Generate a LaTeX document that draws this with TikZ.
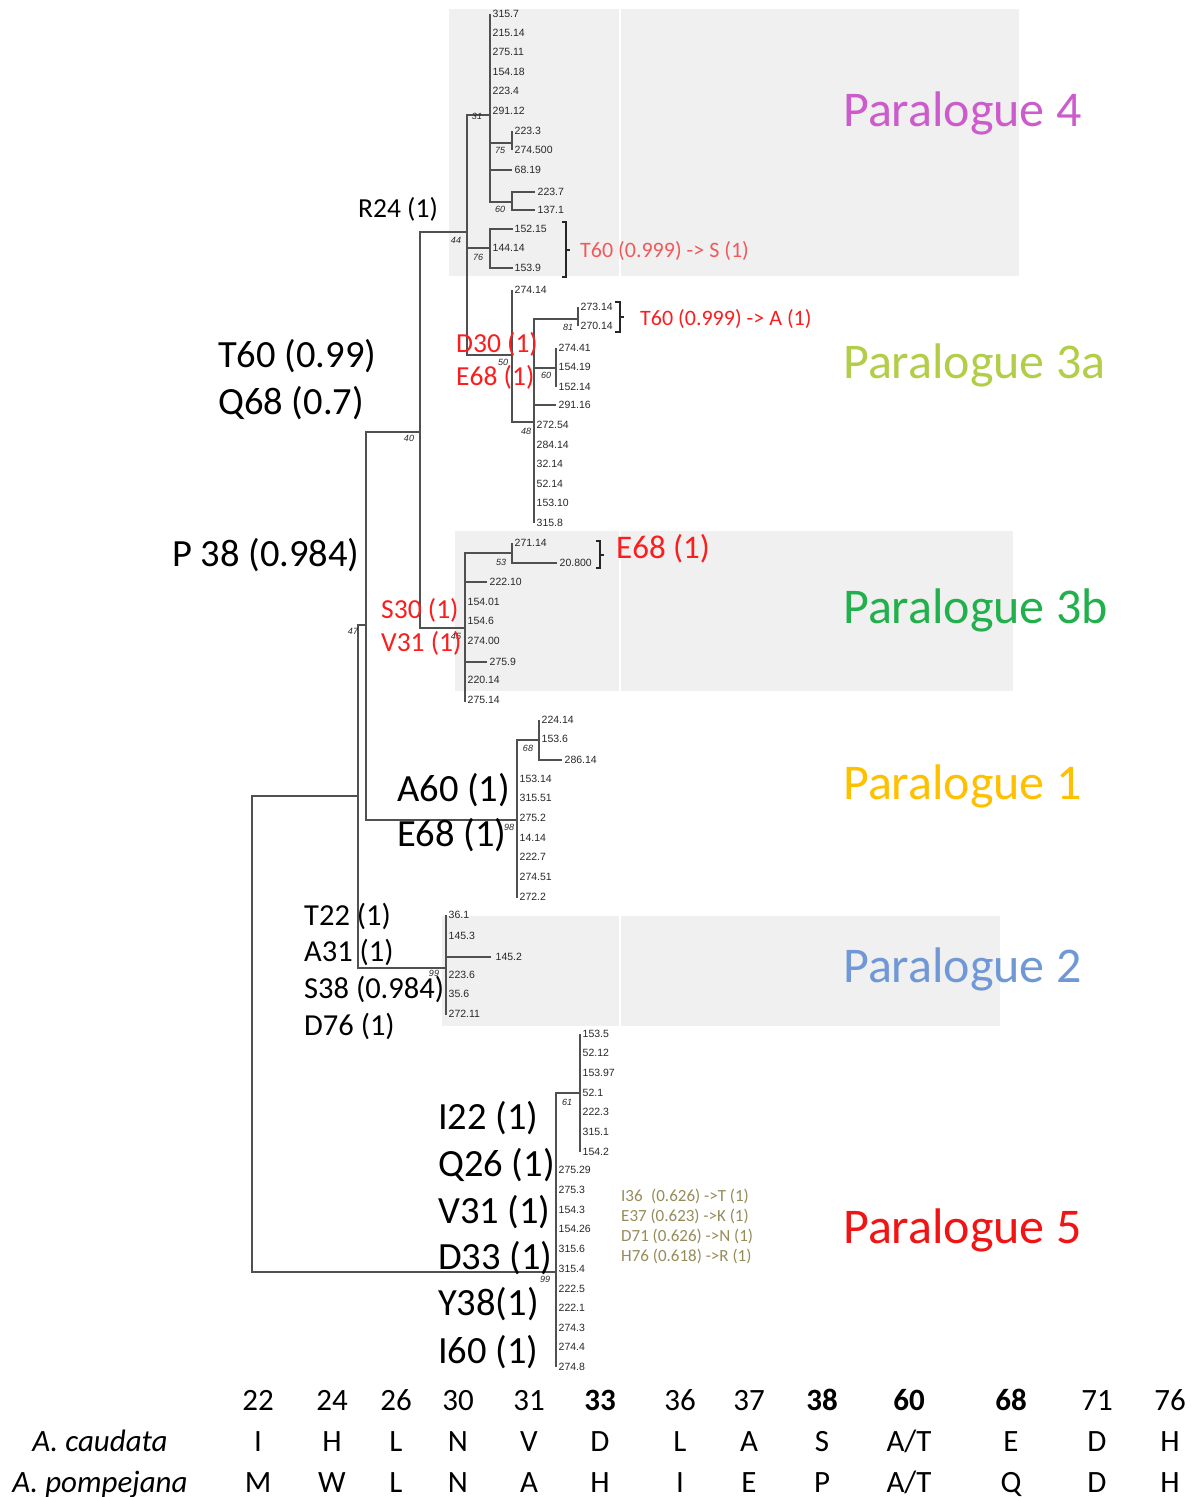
\documentclass[tikz,border=0pt]{standalone}
\usepackage{fontspec}
\setmainfont{Carlito}
\newfontfamily\leaffont{Liberation Sans}
\definecolor{boxgray}{RGB}{240,240,240}
\definecolor{branch}{RGB}{80,80,80}
\definecolor{leafgray}{RGB}{40,40,40}
\definecolor{parafour}{RGB}{204,92,204}
\definecolor{parathreea}{RGB}{178,206,72}
\definecolor{parathreeb}{RGB}{34,176,76}
\definecolor{paraone}{RGB}{255,192,0}
\definecolor{paratwo}{RGB}{112,152,214}
\definecolor{parafive}{RGB}{240,20,20}
\definecolor{mutred}{RGB}{250,30,30}
\definecolor{mutpink}{RGB}{240,90,90}
\definecolor{olivetext}{RGB}{150,140,90}
\begin{document}
\begin{tikzpicture}[x=1pt,y=-1pt,
  br/.style={draw=branch,line width=1.3pt},
  brk/.style={draw=black!85,line width=1.6pt},
  leaf/.style={anchor=west,inner sep=0pt,xshift=2.5pt,font=\leaffont\fontsize{10.5}{11}\selectfont,text=leafgray},
  boot/.style={inner sep=0pt,font=\leaffont\itshape\fontsize{9}{9.5}\selectfont,text=leafgray},
  big/.style={anchor=base west,inner sep=0pt,font=\fontsize{38.5}{40}\selectfont},
  mid/.style={anchor=base west,inner sep=0pt,font=\fontsize{30.5}{32}\selectfont},
  sml/.style={anchor=base west,inner sep=0pt,font=\fontsize{27.5}{29}\selectfont},
  para/.style={anchor=base west,inner sep=0pt,font=\fontsize{50}{52}\selectfont},
  tab/.style={anchor=base,inner sep=0pt,font=\fontsize{31}{33}\selectfont}]
\useasboundingbox (0,0) rectangle (1196,1497);
\fill[white] (0,0) rectangle (1196,1497);

% shaded clade panels
\fill[boxgray] (449,9) rectangle (619,276);
\fill[boxgray] (621,9) rectangle (1019,276);
\fill[boxgray] (455,531) rectangle (619,691);
\fill[boxgray] (621,531) rectangle (1013,691);
\fill[boxgray] (442,916) rectangle (619,1026);
\fill[boxgray] (621,916) rectangle (1000,1026);

% backbone
\draw[br] (358,796) -| (252,1272) -- (556,1272);
\draw[br] (366,625) -| (358,968) -- (446,968);
\draw[br] (420,432) -| (366,820) -- (517,820);
\draw[br] (467,232) -| (420,628) -- (465,628);
\draw[br] (490,115) -| (467,355) -- (512,355);
\draw[br] (467,248) -- (490,248);

% Paralogue 4
\draw[br] (490,14) -- (490,202) -- (512,202);
\draw[br] (490,143) -- (512,143);
\draw[br] (490,170) -- (512,170);
\draw[br] (512,131) -- (512,150);
\draw[br] (535,192) -| (512,210) -- (535,210);
\draw[br] (513,229) -| (490,268) -- (513,268);

% Paralogue 3a
\draw[br] (512,290) -- (512,422) -- (534,422);
\draw[br] (578,319) -| (534,523);
\draw[br] (534,368) -- (556,368);
\draw[br] (534,405) -- (556,405);
\draw[br] (578,307) -- (578,326);
\draw[br] (556,348) -- (556,387);

% Paralogue 3b
\draw[br] (512,553) -| (465,702);
\draw[br] (465,582) -- (487,582);
\draw[br] (465,662) -- (487,662);
\draw[br] (512,543) -- (512,563) -- (557,563);

% Paralogue 1
\draw[br] (539,740) -| (517,898);
\draw[br] (539,720) -- (539,760) -- (562,760);

% Paralogue 2
\draw[br] (446,915) -- (446,1015);
\draw[br] (446,957) -- (491,957);

% Paralogue 5
\draw[br] (580,1093) -| (556,1367);
\draw[br] (580,1034) -- (580,1152);

% leaves
\foreach \y/\lbl [count=\i] in {14/315.7,33/215.14,52/275.11,72/154.18,91/223.4,111/291.12,248/144.14}
  \node[leaf,name=pa\i] at (490,\y) {\lbl};
\foreach \y/\lbl [count=\i] in {131/223.3,150/274.500,170/68.19,229/152.15,268/153.9,290/274.14}
  \node[leaf,name=pb\i] at (512,\y) {\lbl};
\node[leaf,name=pc1] at (535,192) {223.7};
\node[leaf,name=pc2] at (535,210) {137.1};
\node[leaf,name=ta1] at (578,307) {273.14};
\node[leaf,name=ta2] at (578,326) {270.14};
\foreach \y/\lbl [count=\i] in {348/274.41,367/154.19,387/152.14,405/291.16}
  \node[leaf,name=tb\i] at (556,\y) {\lbl};
\foreach \y/\lbl [count=\i] in {425/272.54,445/284.14,464/32.14,484/52.14,503/153.10,523/315.8}
  \node[leaf,name=tc\i] at (534,\y) {\lbl};
\node[leaf,name=sa1] at (512,543) {271.14};
\node[leaf,name=sa2] at (557,563) {20.800};
\node[leaf,name=sa3] at (487,582) {222.10};
\node[leaf,name=sa4] at (487,662) {275.9};
\foreach \y/\lbl [count=\i] in {602/154.01,621/154.6,641/274.00,680/220.14,700/275.14}
  \node[leaf,name=sb\i] at (465,\y) {\lbl};
\node[leaf,name=oa1] at (539,720) {224.14};
\node[leaf,name=oa2] at (539,739) {153.6};
\node[leaf,name=oa3] at (562,760) {286.14};
\foreach \y/\lbl [count=\i] in {779/153.14,798/315.51,818/275.2,838/14.14,857/222.7,877/274.51,897/272.2}
  \node[leaf,name=ob\i] at (517,\y) {\lbl};
\foreach \y/\lbl [count=\i] in {915/36.1,936/145.3,975/223.6,994/35.6,1014/272.11}
  \node[leaf,name=wa\i] at (446,\y) {\lbl};
\node[leaf,name=wb1] at (493,957) {145.2};
\foreach \y/\lbl [count=\i] in {1034/153.5,1053/52.12,1073/153.97,1093/52.1,1112/222.3,1132/315.1,1152/154.2}
  \node[leaf,name=fa\i] at (580,\y) {\lbl};
\foreach \y/\lbl [count=\i] in {1170/275.29,1190/275.3,1210/154.3,1229/154.26,1249/315.6,1269/315.4,1289/222.5,1308/222.1,1328/274.3,1347/274.4,1367/274.8}
  \node[leaf,name=fb\i] at (556,\y) {\lbl};

% bootstrap values
\foreach \x/\y/\v [count=\i] in {477/116/31,500/150/75,500/209/60,456/240/44,478/257/76,503/362/50,568/327/81,546/375/60,526/431/48,409/438/40,501/562/53,456/636/45,353/631/47,528/748/68,509/827/98,434/973/99,567/1102/61,545/1279/99}
  \node[boot,name=bs\i] at (\x,\y) {\v};

% brackets
\draw[brk] (562,222) -- (566,222) -- (566,277) -- (562,277);
\draw[brk] (566,250) -- (570,250);
\draw[brk] (615,302) -- (620,302) -- (620,332) -- (615,332);
\draw[brk] (620,317) -- (624,317);
\draw[brk] (596,541) -- (600,541) -- (600,568) -- (596,568);
\draw[brk] (600,555) -- (604,555);

% substitution labels
\node[anchor=base west,inner sep=0pt,font=\fontsize{22}{23}\selectfont,text=mutpink] (mutS) at (580,257) {T60 (0.999) -> S (1)};
\node[anchor=base west,inner sep=0pt,font=\fontsize{22}{23}\selectfont,text=mutred] (mutA) at (640,325) {T60 (0.999) -> A (1)};
\node[anchor=base west,inner sep=0pt,font=\fontsize{33}{35}\selectfont,text=mutred] (mutE) at (616,558) {E68 (1)};

\node[sml] (r24) at (358,217) {R24 (1)};
\node[big] (t60) at (218,367) {T60 (0.99)};
\node[big] (q68) at (218,414) {Q68 (0.7)};
\node[big] (p38) at (172,566) {P 38 (0.984)};
\node[sml,text=mutred] (d30) at (456,352) {D30 (1)};
\node[sml,text=mutred] (e68a) at (456,385) {E68 (1)};
\node[sml,text=mutred] (s30) at (381,618) {S30 (1)};
\node[sml,text=mutred] (v31a) at (381,651) {V31 (1)};
\node[big] (a60) at (397,801) {A60 (1)};
\node[big] (e68b) at (397,846) {E68 (1)};
\node[mid] (t22) at (304,925) {T22 (1)};
\node[mid] (a31) at (304,961) {A31 (1)};
\node[mid] (s38) at (304,998) {S38 (0.984)};
\node[mid] (d76) at (304,1035) {D76 (1)};
\node[big] (i22) at (438,1129) {I22 (1)};
\node[big] (q26) at (438,1176) {Q26 (1)};
\node[big] (v31b) at (438,1223) {V31 (1)};
\node[big] (d33) at (438,1269) {D33 (1)};
\node[big] (y38) at (438,1315) {Y38(1)};
\node[big] (i60) at (438,1363) {I60 (1)};

\foreach \y/\lbl [count=\i] in {1201/{I36\enspace(0.626) ->T (1)},1221/{E37 (0.623) ->K (1)},1241/{D71 (0.626) ->N (1)},1261/{H76 (0.618) ->R (1)}}
  \node[anchor=base west,inner sep=0pt,font=\fontsize{17}{18}\selectfont,text=olivetext,name=ol\i] at (621,\y) {\lbl};

% clade names
\node[para,text=parafour] (n4) at (843,126) {Paralogue 4};
\node[para,text=parathreea] (n3a) at (843,378) {Paralogue 3a};
\node[para,text=parathreeb] (n3b) at (843,623) {Paralogue 3b};
\node[para,text=paraone] (n1) at (843,799) {Paralogue 1};
\node[para,text=paratwo] (n2) at (843,982) {Paralogue 2};
\node[para,text=parafive] (n5) at (843,1243) {Paralogue 5};

% residue table
\node[tab,font=\itshape\fontsize{31}{33}\selectfont] (sp1) at (100,1451) {A. caudata};
\node[tab,font=\itshape\fontsize{31}{33}\selectfont] (sp2) at (100,1492) {A. pompejana};
\foreach \cx/\num/\ca/\ap [count=\i] in {258/22/I/M,332/24/H/W,396/26/L/L,458/30/N/N,529/31/V/A,600/{\bfseries 33}/D/H,680/36/L/I,749/37/A/E,822/{\bfseries 38}/S/P,909/{\bfseries 60}/{A/T}/{A/T},1011/{\bfseries 68}/E/Q,1097/71/D/D,1170/76/H/H}{
  \node[tab,name=hd\i] at (\cx,1410) {\num};
  \node[tab,name=ca\i] at (\cx,1451) {\ca};
  \node[tab,name=ap\i] at (\cx,1492) {\ap};
}
\end{tikzpicture}
\end{document}
